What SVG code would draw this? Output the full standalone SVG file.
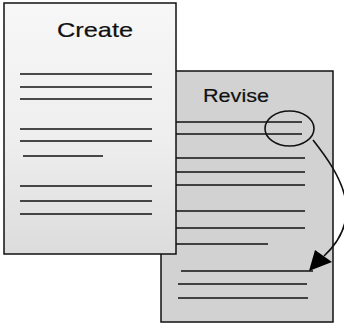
<svg xmlns="http://www.w3.org/2000/svg" width="344" height="326" viewBox="0 0 344 326">
  <defs>
    <linearGradient id="createFill" x1="0" y1="0" x2="0" y2="1">
      <stop offset="0" stop-color="#f7f7f7"/>
      <stop offset="0.55" stop-color="#eeeeee"/>
      <stop offset="1" stop-color="#dcdcdc"/>
    </linearGradient>
    <style>
      .page { stroke: #111; stroke-width: 1.5; }
      .rule { stroke: #111; stroke-width: 1.6; fill: none; }
      .title { font-family: "Liberation Sans", Arial, sans-serif; fill: #111; stroke: #111; stroke-width: 0.2; }
    </style>
  </defs>
  <rect width="344" height="326" fill="#ffffff"/>

  <g id="page-revise">
    <rect class="page" x="161" y="71" width="172" height="251" fill="#d2d2d2"/>
    <text class="title" x="203" y="102" font-size="18.5" textLength="66" lengthAdjust="spacingAndGlyphs">Revise</text>
    <line class="rule" x1="176" y1="122" x2="302" y2="122"/>
    <line class="rule" x1="176" y1="134" x2="302" y2="134"/>
    <line class="rule" x1="176" y1="158" x2="305" y2="158"/>
    <line class="rule" x1="176" y1="172" x2="305" y2="172"/>
    <line class="rule" x1="176" y1="185" x2="305" y2="185"/>
    <line class="rule" x1="176" y1="211" x2="305" y2="211"/>
    <line class="rule" x1="176" y1="228" x2="305" y2="228"/>
    <line class="rule" x1="176" y1="244" x2="268" y2="244"/>
    <line class="rule" x1="181" y1="271" x2="313" y2="271"/>
    <line class="rule" x1="178" y1="284" x2="307" y2="284"/>
    <line class="rule" x1="178" y1="298" x2="308" y2="298"/>
  </g>

  <g id="page-create">
    <rect class="page" x="4" y="3" width="172" height="251" fill="url(#createFill)"/>
    <text class="title" x="57" y="37" font-size="21" textLength="76" lengthAdjust="spacingAndGlyphs">Create</text>
    <line class="rule" x1="20" y1="74" x2="152" y2="74"/>
    <line class="rule" x1="20" y1="87" x2="152" y2="87"/>
    <line class="rule" x1="20" y1="99" x2="152" y2="99"/>
    <line class="rule" x1="20" y1="129" x2="152" y2="129"/>
    <line class="rule" x1="20" y1="141" x2="152" y2="141"/>
    <line class="rule" x1="23" y1="156" x2="103" y2="156"/>
    <line class="rule" x1="20" y1="186" x2="152" y2="186"/>
    <line class="rule" x1="20" y1="201" x2="152" y2="201"/>
    <line class="rule" x1="20" y1="214" x2="152" y2="214"/>
  </g>

  <g id="highlight">
    <ellipse cx="289.5" cy="128.5" rx="24.5" ry="17.5" fill="none" stroke="#111" stroke-width="1.6"/>
  </g>

  <g id="connectors">
    <path d="M313,140 C338,172 368,215 324,256" fill="none" stroke="#111" stroke-width="1.6"/>
    <polygon points="309,271 315,250 332,262" fill="#000"/>
  </g>
</svg>
